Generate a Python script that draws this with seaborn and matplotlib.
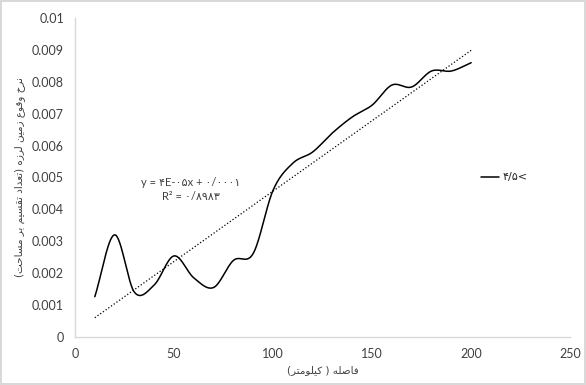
import numpy as np
import pandas as pd
import matplotlib
matplotlib.use('Agg')
import matplotlib.pyplot as plt
import seaborn as sns

# distance (km) vs. earthquake rate (count / area)
distance = [10, 20, 30, 40, 50, 60, 70, 80, 90, 100,
            110, 120, 130, 140, 150, 160, 170, 180, 190, 200]
rate = [0.00126, 0.0032, 0.00140, 0.00163, 0.00254, 0.00185, 0.00155, 0.00240, 0.00262, 0.00460,
        0.00545, 0.00580, 0.00640, 0.00690, 0.00727, 0.00790, 0.00784, 0.00834, 0.00834, 0.00860]

series_label = '۴/۵<'
eq_text = 'y = ۴E-۰۵x + ۰/۰۰۰۱'
r2_text = 'R² = ۰/۸۹۸۳'
x_title = 'فاصله ( کیلومتر)'
y_title = 'نرخ وقوع زمین لرزه (تعداد تقسیم بر مساحت)'

# minimal arabic/persian shaping (matplotlib has no text shaping)
FORMS = {
    'ا': ('\uFE8D', '\uFE8E', None, None),
    'ب': ('\uFE8F', '\uFE90', '\uFE91', '\uFE92'),
    'ت': ('\uFE95', '\uFE96', '\uFE97', '\uFE98'),
    'ح': ('\uFEA1', '\uFEA2', '\uFEA3', '\uFEA4'),
    'خ': ('\uFEA5', '\uFEA6', '\uFEA7', '\uFEA8'),
    'د': ('\uFEA9', '\uFEAA', None, None),
    'ر': ('\uFEAD', '\uFEAE', None, None),
    'ز': ('\uFEAF', '\uFEB0', None, None),
    'س': ('\uFEB1', '\uFEB2', '\uFEB3', '\uFEB4'),
    'ص': ('\uFEB9', '\uFEBA', '\uFEBB', '\uFEBC'),
    'ع': ('\uFEC9', '\uFECA', '\uFECB', '\uFECC'),
    'ف': ('\uFED1', '\uFED2', '\uFED3', '\uFED4'),
    'ق': ('\uFED5', '\uFED6', '\uFED7', '\uFED8'),
    'ل': ('\uFEDD', '\uFEDE', '\uFEDF', '\uFEE0'),
    'م': ('\uFEE1', '\uFEE2', '\uFEE3', '\uFEE4'),
    'ن': ('\uFEE5', '\uFEE6', '\uFEE7', '\uFEE8'),
    'ه': ('\uFEE9', '\uFEEA', '\uFEEB', '\uFEEC'),
    'و': ('\uFEED', '\uFEEE', None, None),
    'ک': ('\uFB8E', '\uFB8F', '\uFB90', '\uFB91'),
    'ی': ('\uFBFC', '\uFBFD', '\uFBFE', '\uFBFF'),
}
MIRROR = {'(': ')', ')': '('}


def shape_rtl(text):
    out = []
    for i, ch in enumerate(text):
        if ch not in FORMS:
            out.append(ch)
            continue
        prev = text[i - 1] if i > 0 else ''
        nxt = text[i + 1] if i + 1 < len(text) else ''
        jp = prev in FORMS and FORMS[prev][2] is not None
        jn = FORMS[ch][2] is not None and nxt in FORMS
        iso, fin, ini, med = FORMS[ch]
        if jp and jn:
            out.append(med)
        elif jp:
            out.append(fin)
        elif jn:
            out.append(ini)
        else:
            out.append(iso)
    return ''.join(MIRROR.get(c, c) for c in reversed(out))


def catmull_rom(x, y, n=30):
    x = np.asarray(x, float)
    y = np.asarray(y, float)
    px = np.concatenate([[2 * x[0] - x[1]], x, [2 * x[-1] - x[-2]]])
    py = np.concatenate([[2 * y[0] - y[1]], y, [2 * y[-1] - y[-2]]])
    xs, ys = [], []
    t = np.linspace(0, 1, n, endpoint=False)
    for i in range(1, len(px) - 2):
        for p, store in ((px, xs), (py, ys)):
            p0, p1, p2, p3 = p[i - 1], p[i], p[i + 1], p[i + 2]
            store.extend(0.5 * (2 * p1 + (-p0 + p2) * t
                                + (2 * p0 - 5 * p1 + 4 * p2 - p3) * t ** 2
                                + (-p0 + 3 * p1 - 3 * p2 + p3) * t ** 3))
    xs.append(x[-1])
    ys.append(y[-1])
    return np.array(xs), np.array(ys)


sns.set_style('white')
plt.rcParams['font.family'] = ['Lato', 'DejaVu Sans']

df = pd.DataFrame({'distance': distance, 'rate': rate})
sx, sy = catmull_rom(distance, rate)
smooth = pd.DataFrame({'distance': sx, 'rate': sy})

fig = plt.figure(figsize=(5.86, 3.85), dpi=100)
fig.patch.set_edgecolor('#d9d9d9')
fig.patch.set_linewidth(1.5)
ax = fig.add_axes([0.128, 0.125, 0.845, 0.828])

sns.lineplot(data=smooth, x='distance', y='rate', color='black', linewidth=1.1,
             sort=False, label=series_label, ax=ax)
sns.regplot(data=df, x='distance', y='rate', scatter=False, ci=None, ax=ax,
            line_kws=dict(color='black', linestyle=':', linewidth=0.9))

ax.set_xlim(0, 250)
ax.set_ylim(0, 0.01)
ax.set_xticks([0, 50, 100, 150, 200, 250])
ax.set_yticks(np.arange(0, 0.0101, 0.001))
ax.set_yticklabels(['0'] + ['%g' % v for v in np.round(np.arange(0.001, 0.0101, 0.001), 3)])
ax.tick_params(labelsize=9, colors='#404040', length=0, pad=8)

for side in ['top', 'right']:
    ax.spines[side].set_visible(False)
for side in ['left', 'bottom']:
    ax.spines[side].set_color('#d9d9d9')
    ax.spines[side].set_linewidth(1)

ax.set_xlabel(shape_rtl(x_title), fontsize=7.5, family='DejaVu Sans', color='#404040', labelpad=4)
ax.set_ylabel(shape_rtl(y_title), fontsize=7.5, family='DejaVu Sans', color='#404040', labelpad=5)

ax.text(58.6, 0.00483, eq_text, ha='center', va='center', fontsize=8,
        family=['Lato', 'DejaVu Sans'], color='#404040')
ax.text(58.6, 0.00439, r2_text, ha='center', va='center', fontsize=8,
        family=['Lato', 'DejaVu Sans'], color='#404040')

ax.legend(loc='center left', bbox_to_anchor=(0.80, 0.50), frameon=False,
          handlelength=1.6, handletextpad=0.3, prop={'family': 'DejaVu Sans', 'size': 8})

fig.savefig('out.png', dpi=100)
